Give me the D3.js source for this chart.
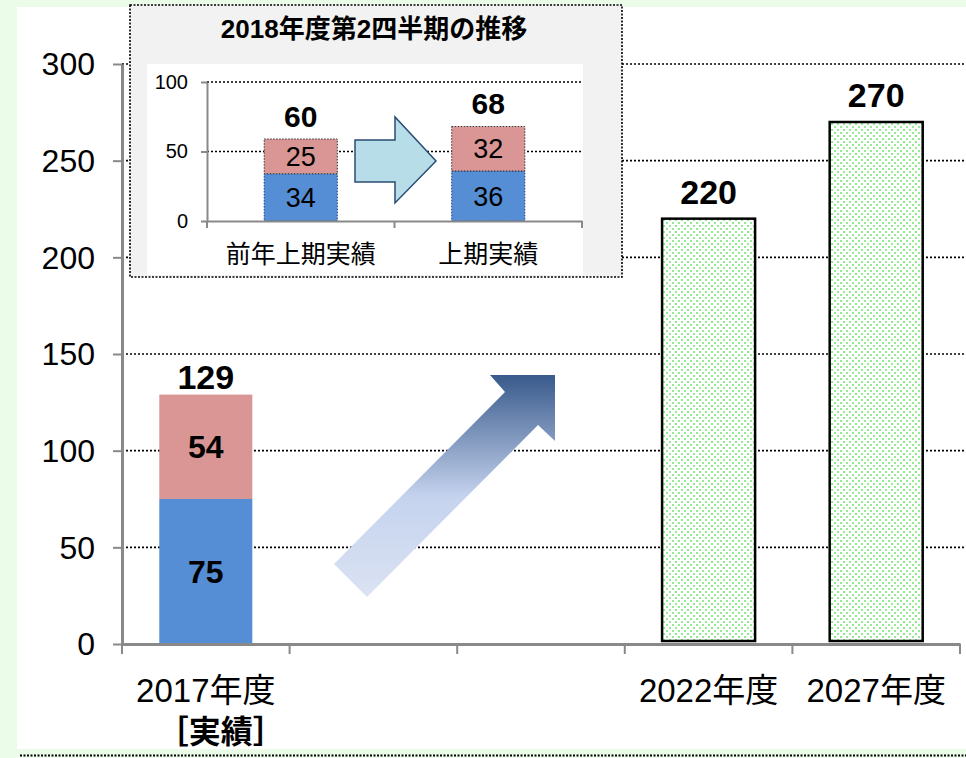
<!DOCTYPE html>
<html>
<head>
<meta charset="utf-8">
<script src="https://cdn.jsdelivr.net/npm/d3@7"></script>
<style>
  body { margin: 0; background: #ebfde8; }
  svg { display: block; }
</style>
</head>
<body>
<div id="container"></div>
<script>
/* CONSTANTS AND GLOBALS */
const width = 966;
const height = 758;
const font = "'Liberation Sans', Arial, 'Noto Sans CJK JP', sans-serif";
const cjkFont = "'Noto Sans CJK JP', sans-serif";

/* DATA */
// main chart
const categories = ["2017", "gapA", "gapB", "2022", "2027"];
const categoryLabels = ["2017年度", "", "", "2022年度", "2027年度"];
const actualCategory = ["2017"];
const actualBlue = [75];
const actualPink = [54];
const actualTotal = [129];
const targetCategories = ["2022", "2027"];
const targetValues = [220, 270];
const yTicks = [0, 50, 100, 150, 200, 250, 300];

// inset chart
const insetTitle = "2018年度第2四半期の推移";
const insetCategories = ["前年上期実績", "上期実績"];
const insetBlue = [34, 36];
const insetPink = [25, 32];
const insetTotals = [60, 68];
const insetTicks = [0, 50, 100];

const blue = "#558ed5";
const pink = "#d99694";
const axisGray = "#898989";

/* SVG */
const svg = d3.select("#container")
  .append("svg")
  .attr("width", width)
  .attr("height", height)
  .style("font-family", font);

const defs = svg.append("defs");

// light green dotted fill for the target bars
const pat = defs.append("pattern")
  .attr("id", "dots")
  .attr("patternUnits", "userSpaceOnUse")
  .attr("width", 6)
  .attr("height", 6);
pat.append("rect").attr("width", 6).attr("height", 6).attr("fill", "#ffffff");
pat.append("rect").attr("x", 0).attr("y", 0).attr("width", 2).attr("height", 2).attr("fill", "#92ec92");
pat.append("rect").attr("x", 3).attr("y", 3).attr("width", 2).attr("height", 2).attr("fill", "#92ec92");

// gradient for the big arrow
const grad = defs.append("linearGradient")
  .attr("id", "arrowGrad")
  .attr("x1", 0).attr("y1", 0).attr("x2", 0).attr("y2", 1);
grad.append("stop").attr("offset", "0%").attr("stop-color", "#395a8c");
grad.append("stop").attr("offset", "55%").attr("stop-color", "#c5d3ee");
grad.append("stop").attr("offset", "100%").attr("stop-color", "#dbe3f3");

// background panel
svg.append("rect")
  .attr("width", width).attr("height", height)
  .attr("fill", "#ebfde8");
svg.append("rect")
  .attr("x", 17).attr("y", 7)
  .attr("width", width - 17).attr("height", 742)
  .attr("fill", "#ffffff");
svg.append("line")
  .attr("x1", 20).attr("x2", width)
  .attr("y1", 755.5).attr("y2", 755.5)
  .attr("stroke", "#000").attr("stroke-width", 2)
  .attr("stroke-dasharray", "2,1.5");

/* SCALES */
const xScale = d3.scaleBand()
  .domain(categories)
  .range([122, 960]);

const yScale = d3.scaleLinear()
  .domain([0, 300])
  .range([644, 64]);

const barW = xScale.bandwidth() * 0.555;
const cx = d => xScale(d) + xScale.bandwidth() / 2;

// gridlines
svg.append("g")
  .selectAll("line")
  .data(yTicks.filter(d => d > 0))
  .join("line")
  .attr("x1", 122).attr("x2", width)
  .attr("y1", d => yScale(d)).attr("y2", d => yScale(d))
  .attr("stroke", "#000")
  .attr("stroke-width", 1.6)
  .attr("stroke-dasharray", "2,2");

// stacked actual bar
svg.append("g")
  .selectAll("rect")
  .data(actualCategory)
  .join("rect")
  .attr("x", d => cx(d) - barW / 2)
  .attr("width", barW)
  .attr("y", (d, i) => yScale(actualBlue[i]))
  .attr("height", (d, i) => yScale(0) - yScale(actualBlue[i]))
  .attr("fill", blue);

svg.append("g")
  .selectAll("rect")
  .data(actualCategory)
  .join("rect")
  .attr("x", d => cx(d) - barW / 2)
  .attr("width", barW)
  .attr("y", (d, i) => yScale(actualBlue[i] + actualPink[i]))
  .attr("height", (d, i) => yScale(actualBlue[i]) - yScale(actualBlue[i] + actualPink[i]))
  .attr("fill", pink);

// segment labels
const segLabel = (vals, base) => svg.append("g")
  .selectAll("text")
  .data(actualCategory)
  .join("text")
  .attr("x", d => cx(d))
  .attr("y", (d, i) => (yScale(base(i)) + yScale(base(i) + vals[i])) / 2)
  .attr("dy", "0.36em")
  .attr("text-anchor", "middle")
  .attr("font-size", 32)
  .attr("font-weight", "bold")
  .text((d, i) => vals[i]);
segLabel(actualBlue, i => 0);
segLabel(actualPink, i => actualBlue[i]);

svg.append("g")
  .selectAll("text")
  .data(actualCategory)
  .join("text")
  .attr("x", d => cx(d))
  .attr("y", (d, i) => yScale(actualTotal[i]) - 6)
  .attr("text-anchor", "middle")
  .attr("font-size", 34)
  .attr("font-weight", "bold")
  .text((d, i) => actualTotal[i]);

// target bars (dotted green)
svg.append("g")
  .selectAll("rect")
  .data(targetCategories)
  .join("rect")
  .attr("x", d => cx(d) - barW / 2)
  .attr("width", barW)
  .attr("y", (d, i) => yScale(targetValues[i]))
  .attr("height", (d, i) => yScale(0) - yScale(targetValues[i]) - 3)
  .attr("fill", "url(#dots)")
  .attr("stroke", "#000")
  .attr("stroke-width", 2.5);

svg.append("g")
  .selectAll("text")
  .data(targetCategories)
  .join("text")
  .attr("x", d => cx(d))
  .attr("y", (d, i) => yScale(targetValues[i]) - 15)
  .attr("text-anchor", "middle")
  .attr("font-size", 34)
  .attr("font-weight", "bold")
  .text((d, i) => targetValues[i]);

/* AXES */
const yAxis = svg.append("g")
  .attr("transform", "translate(122,0)")
  .call(d3.axisLeft(yScale).tickValues(yTicks).tickSize(9).tickSizeOuter(0).tickPadding(18));
yAxis.select(".domain").attr("stroke", axisGray).attr("stroke-width", 3);
yAxis.selectAll(".tick line").attr("stroke", axisGray).attr("stroke-width", 2);
yAxis.selectAll("text")
  .attr("font-family", font)
  .attr("font-size", 32)
  .attr("fill", "#000")
  .attr("dy", "0.34em");

const xAxis = svg.append("g")
  .attr("transform", `translate(0,${yScale(0)})`)
  .call(d3.axisBottom(xScale).tickSize(0).tickSizeOuter(0)
    .tickFormat((d, i) => categoryLabels[i]));
xAxis.select(".domain").attr("stroke", axisGray).attr("stroke-width", 3);
xAxis.selectAll("text")
  .attr("font-family", font)
  .attr("font-size", 33)
  .attr("fill", "#000")
  .attr("y", 58)
  .attr("dy", 0);

// band boundary ticks
const boundaries = categories.map(d => xScale(d)).concat([xScale.range()[1]]);
xAxis.selectAll("line.bound")
  .data(boundaries)
  .join("line")
  .attr("class", "bound")
  .attr("x1", d => d).attr("x2", d => d)
  .attr("y1", 0).attr("y2", 10)
  .attr("stroke", axisGray)
  .attr("stroke-width", 2);

// second line under 2017
xAxis.append("text")
  .attr("x", cx(categories[0]) + 15)
  .attr("y", 99)
  .attr("text-anchor", "middle")
  .attr("font-family", cjkFont)
  .attr("font-size", 32)
  .attr("font-weight", "bold")
  .attr("fill", "#000")
  .text("［実績］");

// big growth arrow
svg.append("polygon")
  .attr("points", [[334, 564], [505, 392], [490, 375], [555, 375], [555, 441], [538, 425], [367, 597]].join(" "))
  .attr("fill", "url(#arrowGrad)");

/* INSET */
const inset = svg.append("g");
inset.append("rect")
  .attr("x", 130).attr("y", 5)
  .attr("width", 492).attr("height", 272)
  .attr("fill", "#f2f2f2")
  .attr("stroke", "#000")
  .attr("stroke-width", 1.6)
  .attr("stroke-dasharray", "2,1.5");
inset.append("rect")
  .attr("x", 147).attr("y", 64)
  .attr("width", 436).attr("height", 211)
  .attr("fill", "#ffffff");
inset.append("text")
  .attr("x", 374).attr("y", 38)
  .attr("text-anchor", "middle")
  .attr("font-size", 26)
  .attr("font-weight", "bold")
  .text(insetTitle);

const ixScale = d3.scaleBand()
  .domain(insetCategories)
  .range([207, 582]);
const iyScale = d3.scaleLinear()
  .domain([0, 100])
  .range([221, 82]);
const iBarW = ixScale.bandwidth() * 0.39;
const icx = d => ixScale(d) + ixScale.bandwidth() / 2;

inset.append("g")
  .selectAll("line")
  .data(insetTicks.filter(d => d > 0))
  .join("line")
  .attr("x1", 207).attr("x2", 582)
  .attr("y1", d => iyScale(d)).attr("y2", d => iyScale(d))
  .attr("stroke", "#000")
  .attr("stroke-width", 1.5)
  .attr("stroke-dasharray", "2,2");

// inset stacked bars
inset.append("g")
  .selectAll("rect")
  .data(insetCategories)
  .join("rect")
  .attr("x", d => icx(d) - iBarW / 2)
  .attr("width", iBarW)
  .attr("y", (d, i) => iyScale(insetBlue[i]))
  .attr("height", (d, i) => iyScale(0) - iyScale(insetBlue[i]))
  .attr("fill", blue)
  .attr("stroke", "#1f3f8a")
  .attr("stroke-width", 1)
  .attr("stroke-dasharray", "1.5,1.5");

inset.append("g")
  .selectAll("rect")
  .data(insetCategories)
  .join("rect")
  .attr("x", d => icx(d) - iBarW / 2)
  .attr("width", iBarW)
  .attr("y", (d, i) => iyScale(insetBlue[i] + insetPink[i]))
  .attr("height", (d, i) => iyScale(insetBlue[i]) - iyScale(insetBlue[i] + insetPink[i]))
  .attr("fill", pink)
  .attr("stroke", "#333")
  .attr("stroke-width", 1)
  .attr("stroke-dasharray", "1.5,1.5");

const iSegLabel = (vals, base) => inset.append("g")
  .selectAll("text")
  .data(insetCategories)
  .join("text")
  .attr("x", d => icx(d))
  .attr("y", (d, i) => (iyScale(base(i)) + iyScale(base(i) + vals[i])) / 2)
  .attr("dy", "0.36em")
  .attr("text-anchor", "middle")
  .attr("font-size", 27)
  .text((d, i) => vals[i]);
iSegLabel(insetBlue, i => 0);
iSegLabel(insetPink, i => insetBlue[i]);

inset.append("g")
  .selectAll("text")
  .data(insetCategories)
  .join("text")
  .attr("x", d => icx(d))
  .attr("y", (d, i) => iyScale(insetBlue[i] + insetPink[i]) - 12)
  .attr("text-anchor", "middle")
  .attr("font-size", 30)
  .attr("font-weight", "bold")
  .text((d, i) => insetTotals[i]);

// inset axes
const iyAxis = inset.append("g")
  .attr("transform", "translate(207,0)")
  .call(d3.axisLeft(iyScale).tickValues(insetTicks).tickSize(6).tickSizeOuter(0).tickPadding(13));
iyAxis.select(".domain").attr("stroke", axisGray).attr("stroke-width", 2);
iyAxis.selectAll(".tick line").attr("stroke", axisGray).attr("stroke-width", 2);
iyAxis.selectAll("text")
  .attr("font-family", font)
  .attr("font-size", 20)
  .attr("fill", "#000");

const ixAxis = inset.append("g")
  .attr("transform", `translate(0,${iyScale(0)})`)
  .call(d3.axisBottom(ixScale).tickSize(0).tickSizeOuter(0));
ixAxis.select(".domain").attr("stroke", axisGray).attr("stroke-width", 2);
ixAxis.selectAll("text")
  .attr("font-family", font)
  .attr("font-size", 25)
  .attr("fill", "#000")
  .attr("y", 42)
  .attr("dy", 0);
ixAxis.selectAll("line.bound")
  .data(insetCategories.map(d => ixScale(d)).concat([ixScale.range()[1]]))
  .join("line")
  .attr("class", "bound")
  .attr("x1", d => d).attr("x2", d => d)
  .attr("y1", 0).attr("y2", 7)
  .attr("stroke", axisGray)
  .attr("stroke-width", 2);

// inset block arrow
inset.append("polygon")
  .attr("points", [[355, 140], [395, 140], [395, 117], [436, 161], [395, 203], [395, 182], [355, 182]].join(" "))
  .attr("fill", "#b7dee8")
  .attr("stroke", "#2b4c74")
  .attr("stroke-width", 1.5);
</script>
</body>
</html>
